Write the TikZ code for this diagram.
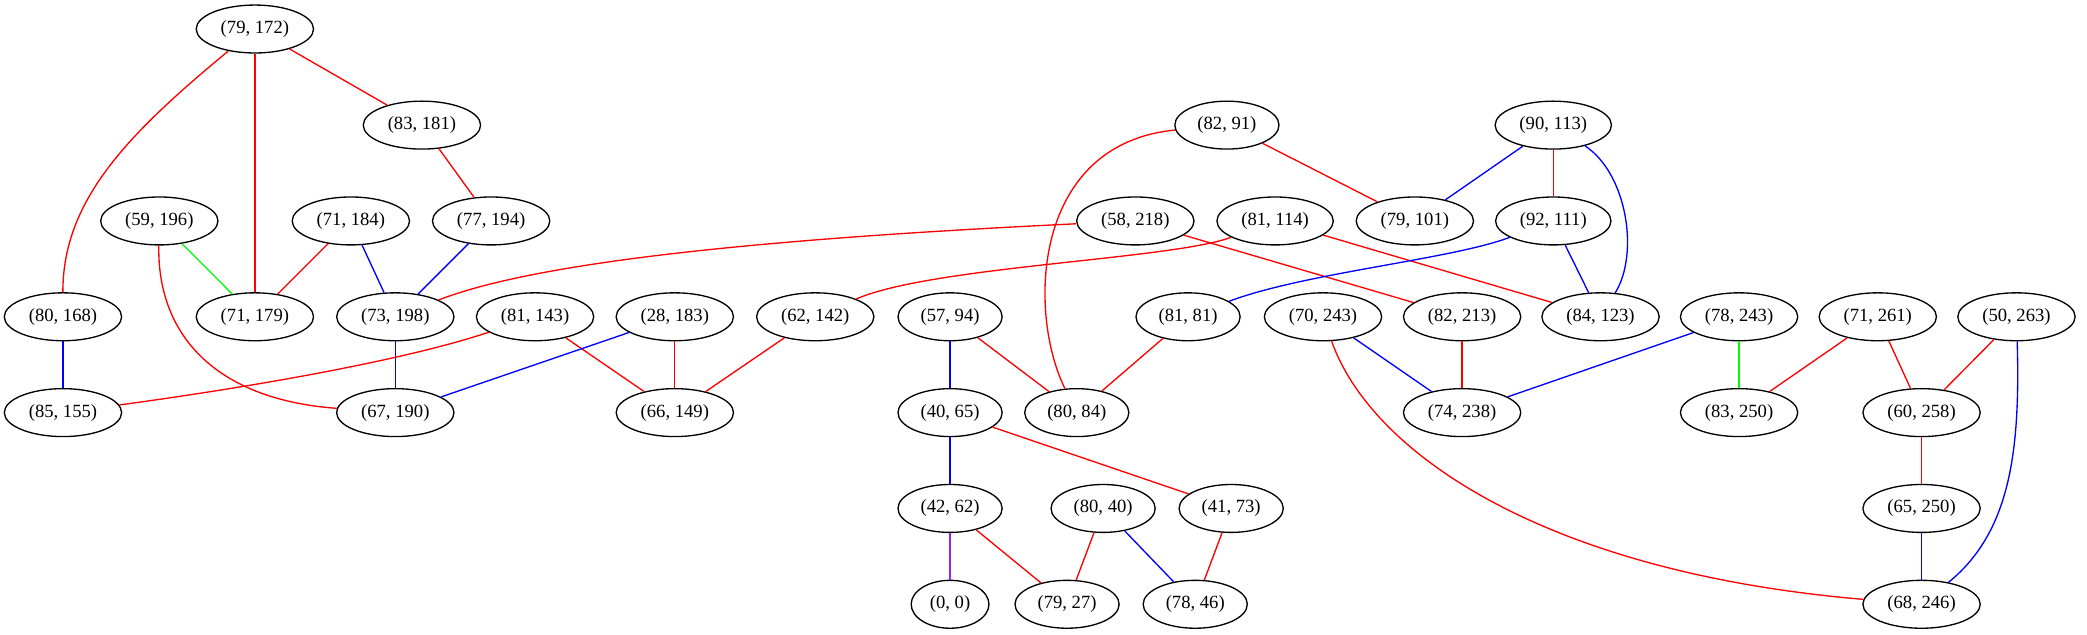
\documentclass[tikz,border=0pt]{standalone}
\usepackage{fontspec}
\setmainfont{Liberation Serif}
\usetikzlibrary{shapes.geometric}
\definecolor{gvred}{RGB}{255,0,0}
\definecolor{gvblue}{RGB}{0,0,255}
\definecolor{gvgreen}{RGB}{0,255,0}
\definecolor{gvpurple}{RGB}{160,32,240}
\tikzset{
  gnode/.style={ellipse, draw=black, line width=1pt, inner xsep=5.5pt, inner ysep=2pt,
    minimum height=36pt, minimum width=54pt, font=\fontsize{14}{16}\selectfont},
  er/.style={draw=gvred, line width=1pt},
  eb/.style={draw=gvblue, line width=1pt},
  eg/.style={draw=gvgreen, line width=1pt},
  ep/.style={draw=gvpurple, line width=1pt}
}
\begin{document}
\begin{tikzpicture}[x=1pt,y=-1pt]
\useasboundingbox (0,0) rectangle (1568,477);
% rank 1
\node[gnode] (n79172) at (191.5,21.8) {(79, 172)};
% rank 2
\node[gnode] (n83181) at (317,94) {(83, 181)};
\node[gnode] (n8291) at (921.8,94) {(82, 91)};
\node[gnode] (n90113) at (1167,94) {(90, 113)};
% rank 3
\node[gnode] (n59196) at (119.7,166) {(59, 196)};
\node[gnode] (n71184) at (263.6,166) {(71, 184)};
\node[gnode] (n77194) at (369,166) {(77, 194)};
\node[gnode] (n58218) at (853,166) {(58, 218)};
\node[gnode] (n81114) at (958,166) {(81, 114)};
\node[gnode] (n79101) at (1063,166) {(79, 101)};
\node[gnode] (n92111) at (1167,166) {(92, 111)};
% rank 4
\node[gnode] (n80168) at (47.3,238) {(80, 168)};
\node[gnode] (n71179) at (191.5,238) {(71, 179)};
\node[gnode] (n73198) at (297,238) {(73, 198)};
\node[gnode] (n81143) at (402,238) {(81, 143)};
\node[gnode] (n28183) at (507,238) {(28, 183)};
\node[gnode] (n62142) at (612.5,238) {(62, 142)};
\node[gnode] (n5794) at (713.8,238) {(57, 94)};
\node[gnode] (n8181) at (892.6,238) {(81, 81)};
\node[gnode] (n70243) at (994,238) {(70, 243)};
\node[gnode] (n82213) at (1098.5,238) {(82, 213)};
\node[gnode] (n84123) at (1202.5,238) {(84, 123)};
\node[gnode] (n78243) at (1306.6,238) {(78, 243)};
\node[gnode] (n71261) at (1410.8,238) {(71, 261)};
\node[gnode] (n50263) at (1515,238) {(50, 263)};
% rank 5
\node[gnode] (n85155) at (47.3,310) {(85, 155)};
\node[gnode] (n67190) at (297,310) {(67, 190)};
\node[gnode] (n66149) at (507,310) {(66, 149)};
\node[gnode] (n4065) at (713.8,310) {(40, 65)};
\node[gnode] (n8084) at (809,310) {(80, 84)};
\node[gnode] (n74238) at (1098.5,310) {(74, 238)};
\node[gnode] (n83250) at (1306.6,310) {(83, 250)};
\node[gnode] (n60258) at (1443.7,310) {(60, 258)};
% rank 6
\node[gnode] (n4262) at (713.8,382) {(42, 62)};
\node[gnode] (n8040) at (828.8,382) {(80, 40)};
\node[gnode] (n4173) at (925,382) {(41, 73)};
\node[gnode] (n65250) at (1443.7,382) {(65, 250)};
% rank 7
\node[gnode] (n00) at (713.8,454) {(0, 0)};
\node[gnode] (n7927) at (801.7,454) {(79, 27)};
\node[gnode] (n7846) at (898,454) {(78, 46)};
\node[gnode] (n68246) at (1443.7,454) {(68, 246)};

% edges
\draw[er] (n79172) -- (n83181);
\draw[er] (n79172) -- (n71179);
\draw[er] (n79172) .. controls (97,100) and (47,150) .. (n80168);
\draw[er] (n83181) -- (n77194);
\draw[er] (n8291) -- (n79101);
\draw[er] (n8291) .. controls (775,108) and (772,235) .. (n8084);
\draw[eb] (n90113) -- (n79101);
\draw[er] (n90113) -- (n92111);
\draw[eb] (n90113) .. controls (1222,130) and (1232,190) .. (n84123);
\draw[eg] (n59196) -- (n71179);
\draw[er] (n59196) .. controls (118,250) and (160,300) .. (n67190);
\draw[er] (n71184) -- (n71179);
\draw[eb] (n71184) -- (n73198);
\draw[eb] (n77194) -- (n73198);
\draw[er] (n58218) .. controls (560,180) and (400,198) .. (n73198);
\draw[er] (n58218) -- (n82213);
\draw[er] (n81114) .. controls (880,195) and (700,200) .. (n62142);
\draw[er] (n81114) -- (n84123);
\draw[eb] (n92111) .. controls (1090,195) and (980,205) .. (n8181);
\draw[eb] (n92111) -- (n84123);
\draw[eb] (n80168) -- (n85155);
\draw[eb] (n73198) -- (n67190);
\draw[er] (n81143) .. controls (300,272) and (180,292) .. (n85155);
\draw[er] (n81143) -- (n66149);
\draw[eb] (n28183) -- (n67190);
\draw[er] (n28183) -- (n66149);
\draw[er] (n62142) -- (n66149);
\draw[eb] (n5794) -- (n4065);
\draw[er] (n5794) -- (n8084);
\draw[er] (n8181) -- (n8084);
\draw[eb] (n70243) -- (n74238);
\draw[er] (n70243) .. controls (1030,340) and (1160,430) .. (n68246);
\draw[er] (n82213) -- (n74238);
\draw[eb] (n78243) -- (n74238);
\draw[eg] (n78243) -- (n83250);
\draw[er] (n71261) -- (n83250);
\draw[er] (n71261) -- (n60258);
\draw[er] (n50263) -- (n60258);
\draw[eb] (n50263) .. controls (1518,340) and (1510,400) .. (n68246);
\draw[eb] (n4065) -- (n4262);
\draw[er] (n4065) -- (n4173);
\draw[ep] (n4262) -- (n00);
\draw[er] (n4262) -- (n7927);
\draw[er] (n8040) -- (n7927);
\draw[eb] (n8040) -- (n7846);
\draw[er] (n4173) -- (n7846);
\draw[er] (n60258) -- (n65250);
\draw[eb] (n65250) -- (n68246);
\end{tikzpicture}
\end{document}
